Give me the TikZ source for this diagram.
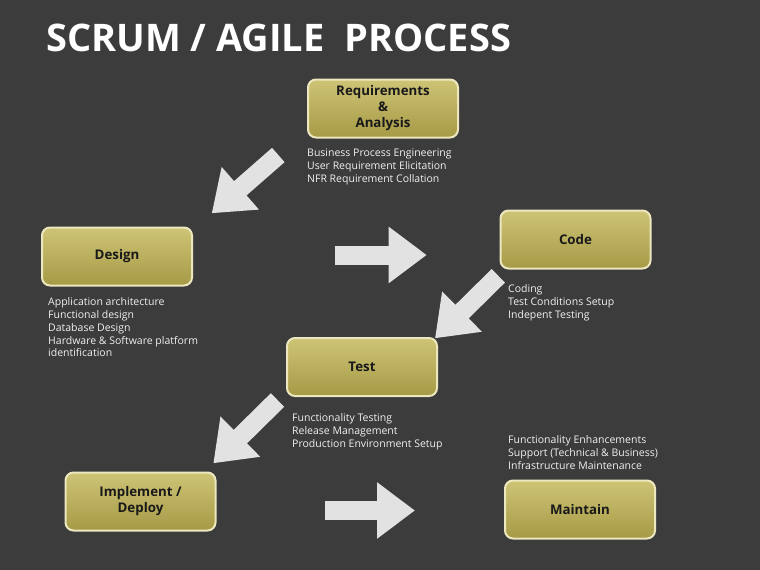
\documentclass[tikz,border=0pt]{standalone}
\usepackage{fontspec}
\setmainfont{Open Sans}
\usetikzlibrary{arrows.meta}

\definecolor{bgdark}{RGB}{60,60,60}
\definecolor{boxtop}{RGB}{206,196,118}
\definecolor{boxbot}{RGB}{166,154,70}
\definecolor{boxrim}{RGB}{236,231,190}
\definecolor{arrowgray}{RGB}{226,226,226}
\definecolor{notegray}{RGB}{240,240,240}

\begin{document}
\begin{tikzpicture}[
    x=1pt, y=-1pt,
    stage/.style={draw=boxrim, line width=2pt, rounded corners=8pt,
        top color=boxtop, bottom color=boxbot,
        minimum width=150pt, minimum height=58pt, inner sep=2pt,
        align=center, text=black!90, font=\fontsize{13.3}{16}\selectfont\bfseries},
    note/.style={anchor=north west, inner sep=0pt, align=left, text=notegray,
        font=\fontsize{10.5}{12.8}\selectfont},
    bigarrow/.style={arrowgray, line width=19pt,
        -{Triangle[width=54pt, length=38pt]}},
]

% Background and title
\fill[bgdark] (0,0) rectangle (760,570);
\useasboundingbox (0,0) rectangle (760,570);
\node[anchor=west, text=white, inner sep=0pt,
    font=\fontsize{38}{40}\selectfont\bfseries] (title) at (46,38) {SCRUM / AGILE\ \ PROCESS};

% Stages
\node[stage] (req) at (383,108.5) {Requirements\\\&\\Analysis};
\node[stage] (design) at (117,256.5) {Design};
\node[stage] (code) at (575.5,239.5) {Code};
\node[stage] (test) at (362,367) {Test};
\node[stage] (impl) at (140.5,501.5) {Implement /\\Deploy};
\node[stage] (maint) at (580,509.5) {Maintain};

% Notes under each stage
\node[note] (reqnote) at (307,148.5) {Business Process Engineering\\User Requirement Elicitation\\NFR Requirement Collation};
\node[note] (designnote) at (48,297.5) {Application architecture\\Functional design\\Database Design\\Hardware \& Software platform\\identification};
\node[note] (codenote) at (508,284.5) {Coding\\Test Conditions Setup\\Indepent Testing};
\node[note] (testnote) at (292,413.5) {Functionality Testing\\Release Management\\Production Environment Setup};
\node[note] (maintnote) at (508,435.5) {Functionality Enhancements\\Support (Technical \& Business)\\Infrastructure Maintenance};

% Arrow ends
\coordinate (a1s) at (278.3,155);
\coordinate (a1e) at (211.7,213.3);
\coordinate (a2s) at (335,255);
\coordinate (a2e) at (426.7,255);
\coordinate (a3s) at (498.3,275.8);
\coordinate (a3e) at (435,338.3);
\coordinate (a4s) at (277.5,400);
\coordinate (a4e) at (213.3,463.3);
\coordinate (a5s) at (325,510.5);
\coordinate (a5e) at (415,510.5);

% Flow arrows
\draw[bigarrow] (a1s) -- (a1e);
\draw[bigarrow] (a2s) -- (a2e);
\draw[bigarrow] (a3s) -- (a3e);
\draw[bigarrow] (a4s) -- (a4e);
\draw[bigarrow] (a5s) -- (a5e);

\end{tikzpicture}
\end{document}
